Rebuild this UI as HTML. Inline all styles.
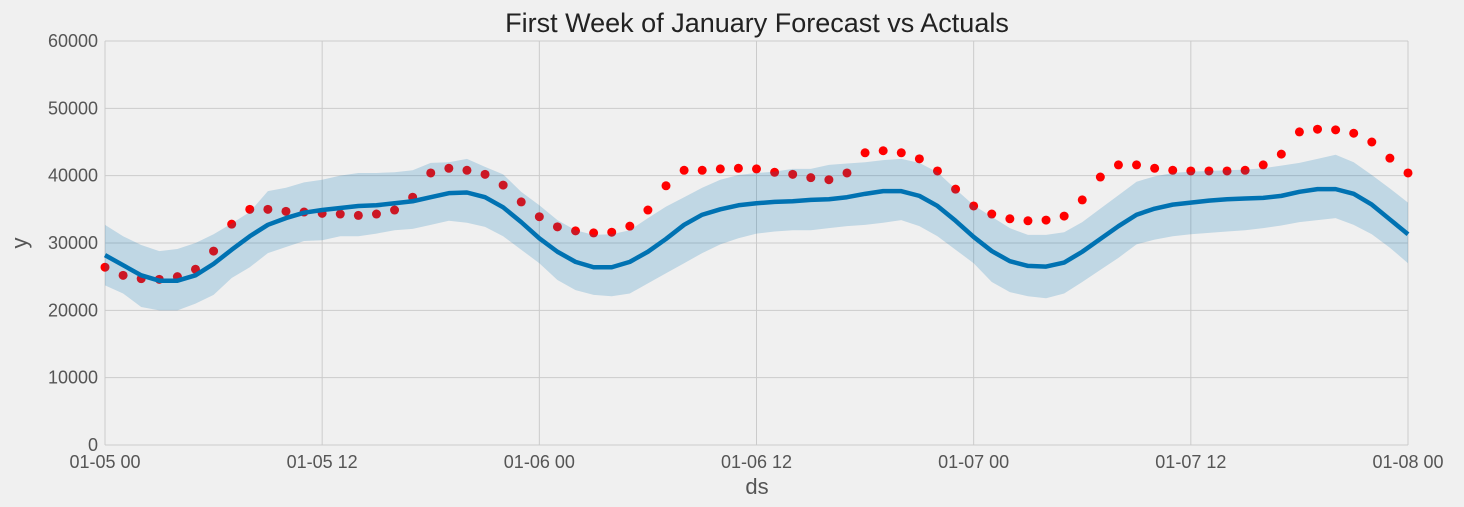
<!DOCTYPE html>
<html><head><meta charset="utf-8"><style>
html,body{margin:0;padding:0;background:#f0f0f0;}
svg{display:block;font-family:"Liberation Sans","DejaVu Sans",sans-serif;}
</style></head><body>
<svg id="chart" width="1464" height="507">
<text x="757" y="32" text-anchor="middle" font-size="27" fill="#222">First Week of January Forecast vs Actuals</text>
<g id="grid"></g><g id="actuals"></g><g id="band"></g><g id="line"></g><g id="axes"></g>
<text x="757" y="494" text-anchor="middle" font-size="22" fill="#555">ds</text>
<text transform="translate(27,243) rotate(-90)" text-anchor="middle" font-size="22" fill="#555">y</text>
</svg>
<script>
const actual=[26400,25200,24700,24600,25000,26100,28800,32800,35000,35000,34700,34600,34400,34300,34100,34300,34900,36800,40400,41100,40800,40200,38600,36100,33900,32400,31800,31500,31600,32500,34900,38500,40800,40800,41000,41100,41000,40500,40200,39700,39400,40400,43400,43700,43400,42500,40700,38000,35500,34300,33600,33300,33400,34000,36400,39800,41600,41600,41100,40800,40700,40700,40700,40800,41600,43200,46500,46900,46800,46300,45000,42600,40400];
const yhat=[28200,26700,25200,24400,24400,25200,26900,29000,31000,32700,33700,34500,34900,35200,35500,35600,35900,36200,36800,37400,37500,36800,35300,33100,30700,28700,27200,26400,26400,27200,28700,30600,32700,34200,35000,35600,35900,36100,36200,36400,36500,36800,37300,37700,37700,37000,35500,33300,30900,28800,27300,26600,26500,27100,28700,30600,32500,34200,35100,35700,36000,36300,36500,36600,36700,37000,37600,38000,38000,37300,35700,33500,31300];
const upper=[32700,31000,29700,28800,29100,30000,31300,32900,34600,37700,38200,39000,39400,40000,40400,40400,40500,40800,41900,42000,42500,41300,40200,37600,35600,33400,31900,31200,31300,31900,33700,35400,36800,38200,39400,40100,40400,40600,41000,41000,41600,41800,42000,42300,42500,41900,40500,38000,35600,33900,32200,31200,31200,31600,33100,35100,37100,39100,39900,40400,40600,40700,40800,40900,41100,41500,41900,42500,43100,42000,40100,38100,36000];
const lower=[23700,22500,20500,20000,20000,21000,22300,24800,26400,28500,29400,30300,30400,31000,31000,31400,31900,32100,32700,33300,33000,32400,31000,29000,27000,24500,23000,22300,22100,22500,24000,25500,27000,28500,29800,30700,31400,31700,31900,31900,32200,32500,32700,33000,33400,32500,31000,29000,27000,24200,22700,22100,21800,22500,24200,26000,27800,29800,30500,31000,31300,31500,31700,31900,32200,32600,33100,33400,33700,32700,31300,29300,27000];
const yTicks=[0,10000,20000,30000,40000,50000,60000];
const xTickHours=[0,12,24,36,48,60,72];
const xTickLabels=["01-05 00","01-05 12","01-06 00","01-06 12","01-07 00","01-07 12","01-08 00"];
const X0=105,X1=1408,Y0=445,Y1=41;
const xs=h=>X0+(X1-X0)*h/72;
const ys=v=>Y0-(Y0-Y1)*v/60000;
const NS="http://www.w3.org/2000/svg";
function mk(t,a,p){const e=document.createElementNS(NS,t);for(const k in a)e.setAttribute(k,a[k]);p.appendChild(e);return e;}
const grid=document.getElementById('grid'),axes=document.getElementById('axes');
yTicks.forEach(v=>{
 const l=mk('line',{x1:X0,x2:X1,y1:ys(v),y2:ys(v),stroke:'#cbcbcb','stroke-width':1},grid);
 
 
 const t=mk('text',{x:X0-7,y:ys(v)+6,'text-anchor':'end','font-size':18,fill:'#555'},axes);
 t.textContent=v;
 
 
});
xTickHours.forEach((h,i)=>{
 const l=mk('line',{x1:xs(h),x2:xs(h),y1:Y1,y2:Y0,stroke:'#cbcbcb','stroke-width':1},grid);
 
 
 const t=mk('text',{x:xs(h),y:468,'text-anchor':'middle','font-size':18,fill:'#555'},axes);
 t.textContent=xTickLabels[i];
 
 
});
const act=document.getElementById('actuals');
actual.forEach((v,i)=>{
 const c=mk('circle',{cx:xs(i),cy:ys(v),r:4.5,fill:'#ff0000'},act);
 
 
});
let d='';
upper.forEach((v,i)=>{d+=(i?'L':'M')+xs(i)+','+ys(v);});
for(let i=lower.length-1;i>=0;i--)d+='L'+xs(i)+','+ys(lower[i]);
const band=mk('path',{d:d+'Z',fill:'#0072B2','fill-opacity':0.2},document.getElementById('band'));


let ld='';
yhat.forEach((v,i)=>{ld+=(i?'L':'M')+xs(i)+','+ys(v);});
const line=mk('path',{d:ld,fill:'none',stroke:'#0072B2','stroke-width':4.5,'stroke-linejoin':'round'},document.getElementById('line'));


</script>
</body></html>
